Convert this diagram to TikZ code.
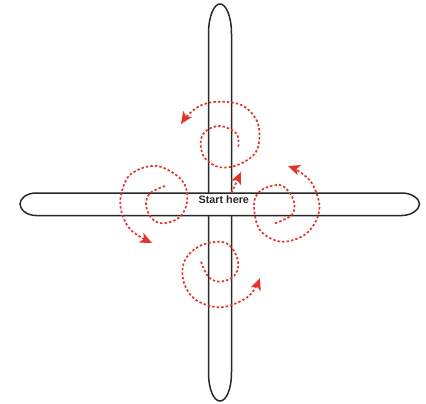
\documentclass[tikz,border=0pt]{standalone}
\usepackage{fontspec}
\setmainfont{Liberation Sans}
\usetikzlibrary{arrows.meta}
\definecolor{swirl}{RGB}{226,52,44}
\definecolor{barline}{RGB}{40,40,40}
\tikzset{
  bar/.style={draw=barline,fill=white,line width=1.5pt},
  swirlline/.style={draw=swirl,line width=1.7pt,dash pattern=on 2.4pt off 2.1pt,
    -{Stealth[length=12pt,width=10.5pt,inset=3pt,fill=swirl,sharp]}},
}
\begin{document}
\begin{tikzpicture}[x=1pt,y=-1pt]
\useasboundingbox (0,0) rectangle (426,404);
% vertical bar
\draw[bar] (208.5,34) .. controls (208.5,16) and (214,4) .. (220,4)
  .. controls (226,4) and (231.5,16) .. (231.5,34) -- (231.5,372)
  .. controls (231.5,390) and (226,401) .. (220,401)
  .. controls (214,401) and (208.5,390) .. (208.5,372) -- cycle;
% horizontal bar
\draw[bar] (36,193) -- (402,193) .. controls (412,193) and (419.5,199) .. (419.5,204)
  .. controls (419.5,209) and (412,215.5) .. (402,215.5) -- (36,215.5)
  .. controls (26,215.5) and (20,209) .. (20,204)
  .. controls (20,199) and (26,193) .. (36,193) -- cycle;
\node[text=barline,font=\bfseries\fontsize{10.8}{12}\selectfont,inner sep=0pt] (start) at (223.8,200) {Start here};
% start arrow
\coordinate (s0) at (231.5,193);
\coordinate (s1) at (241,172);
\draw[swirlline] (s0) -- (s1);
% top spiral
\draw[swirlline] plot[smooth,tension=0.6] coordinates {
 (238.3,146.7) (236.5,133.5) (220,126) (205,131.7) (200.7,144) (205,158.3)
 (220,167.3) (240,164) (257,150) (258,124) (243.3,106) (220,101.7)
 (201.7,105) (189,114) (181,124)};
% left spiral
\draw[swirlline] plot[smooth,tension=0.6] coordinates {
 (165,186) (150,193.3) (146,205) (151.7,218.3) (163.3,223.3) (180,217)
 (187.3,200) (181.7,180) (156.7,166) (131,174) (121,195) (122,214)
 (132,231) (152,243)};
% right spiral
\draw[swirlline] plot[smooth,tension=0.6] coordinates {
 (275,223.3) (291.7,215) (294,201.7) (286,188.5) (276.7,185) (260,191)
 (254,205) (260,230) (281.7,241.7) (307,233) (319.3,210)
 (313,185) (300,172) (288,166)};
% bottom spiral
\draw[swirlline] plot[smooth,tension=0.6] coordinates {
 (201,261.7) (208.3,276.7) (220,281.7) (234,276) (238.3,263.3) (232,248)
 (220,241.7) (198.3,246.7) (184,262) (184,283) (196,300) (220,307.3)
 (243,300) (254,290) (260,278)};
\end{tikzpicture}
\end{document}
